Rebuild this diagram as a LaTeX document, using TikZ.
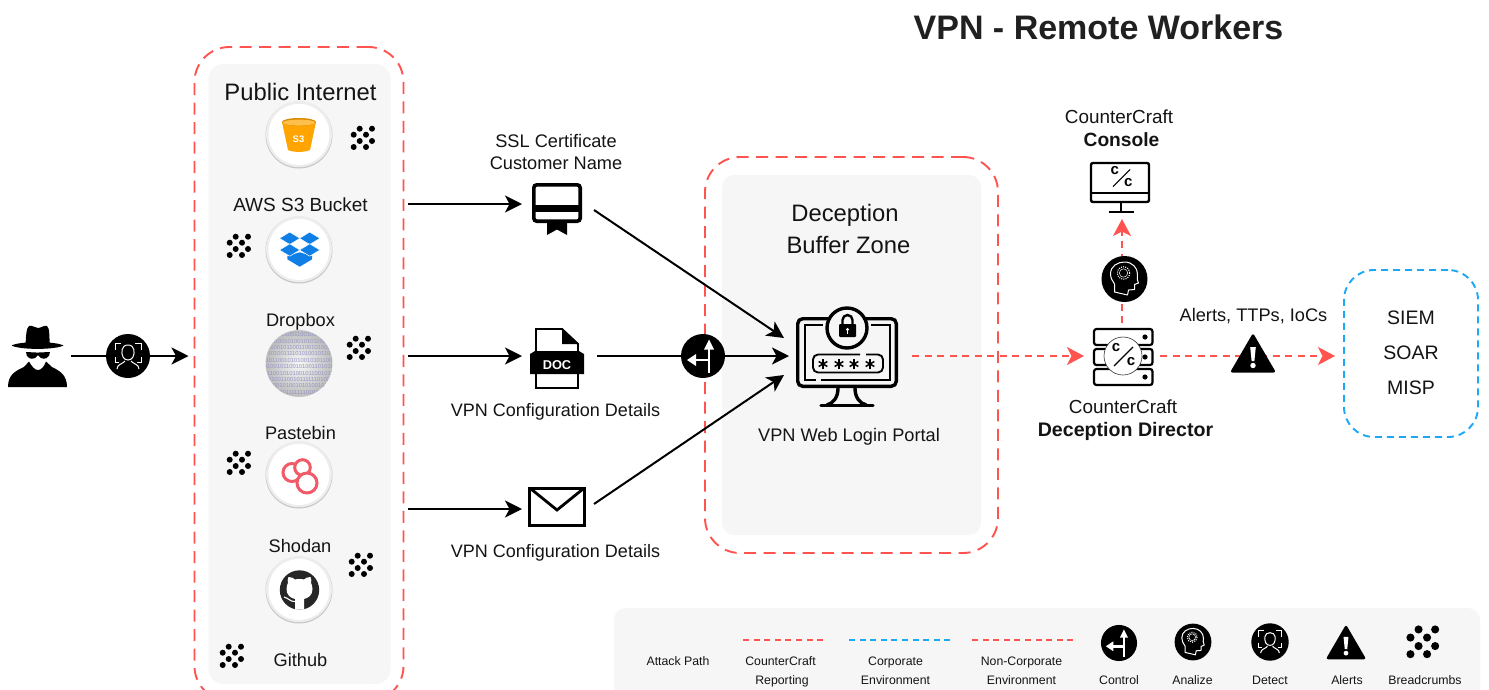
\documentclass[tikz,border=0pt]{standalone}
\usepackage{fontspec}
\setmainfont{Liberation Sans}
\usetikzlibrary{arrows.meta,calc}
\definecolor{redline}{HTML}{FF5350}
\definecolor{blueline}{HTML}{1CA8F4}
\definecolor{panel}{HTML}{F6F6F6}
\definecolor{ink}{HTML}{141414}
\definecolor{orangeb}{HTML}{FFA400}
\definecolor{blued}{HTML}{0F7FE6}
\definecolor{pink}{HTML}{EE3E4E}
\tikzset{
  panelbox/.style={fill=panel,rounded corners=#1,inner sep=0,outer sep=0},
  redbox/.style={draw=redline,line width=1.9pt,dash pattern=on 12pt off 7.5pt,rounded corners=35pt,inner sep=0,outer sep=0},
  bluebox/.style={draw=blueline,line width=1.9pt,dash pattern=on 7pt off 5pt,rounded corners=30pt,inner sep=0,outer sep=0},
  holder/.style={inner sep=0,outer sep=0},
  txt/.style={text=ink,inner sep=0,outer sep=0,text height=13pt,text depth=0pt,font=\fontsize{18.2}{20}\selectfont},
  boldtxt/.style={txt,font=\bfseries\fontsize{19.2}{21}\selectfont},
  bigtxt/.style={text=ink,inner sep=0,outer sep=0,text height=17pt,text depth=0pt,font=\fontsize{23.8}{26}\selectfont},
  smalltxt/.style={text=ink,inner sep=0,outer sep=0,text height=8.5pt,text depth=0pt,font=\fontsize{12.3}{14}\selectfont},
  attackflow/.style={draw=black,line width=2pt,-{Stealth[length=17pt,width=17pt,inset=4.5pt]}},
  reportflow/.style={draw=redline,line width=2pt,dash pattern=on 7pt off 5.5pt,-{Stealth[length=17pt,width=18pt,inset=4.5pt]}},
  crumbs/.pic={
    \foreach \a/\b in {-3.3/-9.3,9/-9.3,-9.3/-3.3,3/-3.3,-3.3/3,9/3,-9.3/9,3/9}
      \fill[black] (\a,\b) circle (3);
  },
  glossy/.pic={
    \fill[white!78!black] (0,0) circle (33.5);
    \fill[white!93!black] (0,-0.8) circle (33);
    \fill[white] (0,-0.6) circle (30.5);
  },
  controlicon/.pic={
    \fill[black] (0,0) circle (22);
    \draw[white,line width=2.8pt] (6,17) -- (6,-10);
    \fill[white] (6,-16.5) -- (11,-6.5) -- (1,-6.5) -- cycle;
    \draw[white,line width=2.8pt] (6,4) -- (-9,4);
    \fill[white] (-16,4) -- (-7,-2) -- (-7,10) -- cycle;
  },
  detecticon/.pic={
    \fill[black] (0,0) circle (22);
    \draw[white,line width=1pt] (-13,-6) -- (-13,-13) -- (-7,-13) (7,-13) -- (13,-13) -- (13,-6)
      (-13,1) -- (-13,6) -- (-9,6) (9,6) -- (13,6) -- (13,1);
    \draw[white,line width=1pt] (0,-11) .. controls (-7,-11) and (-7,-3) .. (-5,1) .. controls (-3,5) and (3,5) .. (5,1) .. controls (7,-3) and (7,-11) .. (0,-11);
    \draw[white,line width=1pt] (-11,13) .. controls (-11,8) and (-5,8) .. (-3,5) (3,5) .. controls (5,8) and (11,8) .. (11,13);
  },
  analyzeicon/.pic={
    \fill[black] (0,0) circle (23);
    \draw[white,line width=1pt,line join=round] (-10,13) -- (-10,5)
      .. controls (-12,2) and (-14,-1) .. (-14,-5)
      .. controls (-14,-13) and (-7,-17) .. (0,-17) .. controls (8,-17) and (13,-11) .. (13,-5)
      .. controls (13,-2) and (12,0) .. (14,4) -- (10,5.5) -- (10,10.5) -- (4,11) -- (3,16) -- cycle;
    \draw[white,line width=1.1pt,dash pattern=on 1pt off 1.2pt] (-1,-6) circle (6.2);
    \draw[white,line width=0.5pt] (-1,-6) circle (4.2);
  },
  alerticon/.pic={
    \fill[black,rounded corners=2.5pt] (0,-21) -- (23,18.5) -- (-23,18.5) -- cycle;
    \fill[white] (-2.8,-7) -- (2.8,-7) -- (1.4,7) -- (-1.4,7) -- cycle;
    \fill[white] (0,11.5) circle (2.7);
  },
  cslashc/.pic={
    \node (cu) [holder,font=\bfseries\fontsize{15}{15}\selectfont] at (-8,-9) {c};
    \node (cd) [holder,font=\bfseries\fontsize{15}{15}\selectfont] at (7,5) {c};
    \draw[black,line width=1.1pt] (-10,9) -- (9,-10);
  },
  starglyph/.pic={
    \foreach \r in {0,60,120} \draw[black,line width=1.5pt,rotate=\r] (0,-5) -- (0,5);
  }
}
\begin{document}
\begin{tikzpicture}[x=1pt,y=-1pt]
\useasboundingbox (0,0) rectangle (1489,689);
\clip (0,0) rectangle (1489,689);
\fill[white] (0,0) rectangle (1489,689);

% panels
\node (inetpanel) [panelbox=15pt,minimum width=182pt,minimum height=620pt] at (299.5,374) {};
\node (inet) [redbox,minimum width=209pt,minimum height=654pt] at (299,374) {};
\node (zonepanel) [panelbox=12pt,minimum width=259pt,minimum height=360pt] at (851.5,355) {};
\node (zone) [redbox,minimum width=293pt,minimum height=396pt] at (851.5,355) {};
\node (siem) [bluebox,minimum width=134pt,minimum height=167pt] at (1411,353.5) {};
\node (legend) [panelbox=12pt,minimum width=866pt,minimum height=110pt] at (1047,663) {};

% anchors of the icons
\node (spy) [holder,minimum width=66pt,minimum height=60pt] at (38,356) {};
\node (cert) [holder,minimum width=70pt,minimum height=52pt] at (557,204) {};
\node (doc) [holder,minimum width=70pt,minimum height=60pt] at (557,356) {};
\node (env) [holder,minimum width=70pt,minimum height=40pt] at (557,509) {};
\node (portal) [holder,minimum width=116pt,minimum height=90pt] at (847,356) {};
\node (director) [holder,minimum width=76pt,minimum height=66pt] at (1122,356) {};
\node (console) [holder,minimum width=60pt,minimum height=58pt] at (1122,190) {};
\coordinate (certout) at (594,210);
\coordinate (envout) at (594,504);
\coordinate (portalup) at (784,338);
\coordinate (portaldown) at (784,375);

% connectors
\draw[attackflow,shorten >=6pt] (spy.east) -- (inet.west |- spy.east);
\draw[attackflow,shorten <=4pt] (inet.east |- cert.west) -- (cert.west);
\draw[attackflow,shorten <=4pt] (inet.east |- doc.west) -- (doc.west);
\draw[attackflow,shorten <=4pt] (inet.east |- env.west) -- (env.west);
\draw[attackflow] (certout) -- (portalup);
\draw[attackflow,shorten <=5pt] (doc.east) -- (portal.west);
\draw[attackflow] (envout) -- (portaldown);
\draw[reportflow,shorten <=7pt] (portal.east) -- (director.west);
\draw[reportflow,shorten >=9pt] (director.east) -- (siem.west |- director.east);
\draw[reportflow] (director.north) -- (console.south);

% title
\node (title) [text=ink!95!white,inner sep=0,text height=24pt,text depth=0pt,font=\bfseries\fontsize{34}{37}\selectfont] at (1098.5,27) {VPN - Remote Workers};

% spy
\fill[black] (8,387) .. controls (8,375) and (15,371) .. (24,367) -- (29,361.5) .. controls (32,367) and (35,370) .. (38,370) .. controls (41,370) and (44,367) .. (46,361.5) -- (52,367) .. controls (60,371) and (67,375) .. (67,387) -- cycle;
\fill[black] (11.5,345.5) .. controls (20,341) and (55,341) .. (63.5,345.5) .. controls (55,350) and (20,350) .. (11.5,345.5) -- cycle;
\fill[black] (25.5,345) .. controls (26,338) and (26,328) .. (29,326) .. controls (33,325) and (35,328) .. (38,328) .. controls (41,328) and (44,325) .. (47,326) .. controls (50,328) and (49,338) .. (50,345) -- cycle;
\fill[black] (26,352) -- (36,352.5) -- (39,352.5) -- (50,352) .. controls (50,358) and (44,360) .. (41,358) -- (38,355) -- (35,358) .. controls (31,360) and (26,358) .. (26,352) -- cycle;
\pic at (128,356) {detecticon};

% public internet column
\node (inettitle) [bigtxt] at (300.5,92) {Public Internet};
\pic at (299,135) {glossy};
\pic at (299,250) {glossy};
\pic at (299,475) {glossy};
\pic at (299,590) {glossy};
% S3 bucket
\begin{scope}[shift={(299,135)}]
\fill[orangeb] (-17,-13) -- (17,-13) -- (11,15) .. controls (6,17.5) and (-6,17.5) .. (-11,15) -- cycle;
\fill[orangeb!85!black] (0,-13) ellipse (17 and 4);
\fill[orangeb!70!white] (0,-12.4) ellipse (16 and 3);
\node (s3mark) [holder,text=white,font=\bfseries\fontsize{9.5}{10}\selectfont] at (-0.5,4) {S3};
\end{scope}
% dropbox
\begin{scope}[shift={(299.7,250)}]
\fill[blued] (-12.3,6) -- (0,2.3) -- (12.3,6) -- (12.3,9.3) -- (0,16.7) -- (-12.3,9.3) -- cycle;
\foreach \a/\b in {-10/-11.7,10/-11.7,-10/0,10/0}
  \filldraw[fill=blued,draw=white,line width=0.5pt] (\a-10.2,\b) -- (\a,\b-6.2) -- (\a+10.2,\b) -- (\a,\b+6.2) -- cycle;
\end{scope}
% binary disc
\begin{scope}
\fill[white!80!black] (299,363.5) circle (33.5);
\clip (299,363.5) circle (33);
\shade[inner color=white!97!black,outer color=white!74!black] (299,363.5) circle (33);
\node (binarytext) [holder,align=center,text=black!40!blue!35!white!90!black,font=\fontsize{5.8}{6.4}\selectfont] at (299,363.5) {%
0101010011001010100\\01011001010010101100101\\100100101100110010100101\\001010011110101001011010\\01011001010100101011001\\101001011001010011010101\\001100101010010110010101\\010100110010111111010000\\001100101001010100101001\\0010011111110101010};
\end{scope}
% pastebin
\begin{scope}[shift={(299,475)}]
\foreach \a/\b/\r in {-7/-2.5/9,3.5/-7.5/7.8,8/8/10}
  \filldraw[fill=white,draw=pink!85!white,line width=3pt] (\a,\b) circle (\r);
\end{scope}
% github
\begin{scope}[shift={(299.5,590)}]
\fill[black!85!white] (0,0) circle (19.7);
\fill[white] (-4.5,19.6) -- (-4.5,9) .. controls (-9,8) and (-13,5) .. (-13,-1) .. controls (-13,-4) and (-12,-6) .. (-11.5,-7) .. controls (-12,-9) and (-12,-11) .. (-11,-13) .. controls (-8,-13) and (-6,-12) .. (-4.5,-10.5) .. controls (-2,-11.2) and (2,-11.2) .. (4.5,-10.5) .. controls (6,-12) and (8,-13) .. (11,-13) .. controls (12,-11) and (12,-9) .. (11.5,-7) .. controls (12,-6) and (13,-4) .. (13,-1) .. controls (13,5) and (9,8) .. (4.5,9) -- (4.5,19.6) -- cycle;
\draw[white,line width=1.1pt] (-4.5,11.5) .. controls (-9,12) and (-11,8) .. (-15.5,7);
\end{scope}
% labels of the column
\node (lbls3) [txt,font=\fontsize{19}{21}\selectfont] at (300.5,205) {AWS S3 Bucket};
\node (lbldropbox) [txt] at (300.5,320) {Dropbox};
\node (lblpastebin) [txt] at (300.5,433) {Pastebin};
\node (lblshodan) [txt] at (300,546) {Shodan};
\node (lblgithub) [txt] at (300.5,660) {Github};
% breadcrumbs
\pic at (363,138) {crumbs};
\pic at (239,246) {crumbs};
\pic at (359,348) {crumbs};
\pic at (239,463) {crumbs};
\pic at (361,565) {crumbs};
\pic at (232,656) {crumbs};

% certificate
\draw[black,line width=3.6pt,rounded corners=3pt] (533.8,184.8) rectangle (580.2,221.2);
\fill[black] (533,205) rectangle (581,212);
\fill[black] (547,222) -- (567,222) -- (567,235) -- (557,229.5) -- (547,235) -- cycle;
\node (lblssl1) [txt] at (556,141) {SSL Certificate};
\node (lblssl2) [txt] at (556,163) {Customer Name};
% document
\draw[black,line width=1.9pt] (536,329) -- (562,329) -- (578,344) -- (578,388) -- (536,388) -- cycle;
\fill[black] (562,328) -- (579,344) -- (562,344) -- cycle;
\fill[black] (530,354) -- (535,351) -- (579,351) -- (584,354) -- (584,374) -- (530,374) -- cycle;
\node (doctext) [holder,text=white,font=\bfseries\fontsize{12.8}{13}\selectfont] at (557,365.5) {DOC};
\node (lblcfg1) [txt,font=\fontsize{18}{20}\selectfont] at (555.5,410) {VPN Configuration Details};
% envelope
\draw[black,line width=3.4pt] (529.7,488.7) rectangle (584.3,525.3);
\draw[black,line width=2.8pt] (531,489) -- (557,510) -- (583,489);
\node (lblcfg2) [txt,font=\fontsize{18}{20}\selectfont] at (555.5,551) {VPN Configuration Details};

\pic at (703,356) {controlicon};

% deception zone
\node (lblzone1) [bigtxt] at (845,213) {Deception};
\node (lblzone2) [bigtxt] at (848.5,245) {Buffer Zone};
\draw[black,line width=3.4pt,rounded corners=5pt] (797.7,318.7) rectangle (896.3,386.3);
\draw[black,line width=1.9pt] (823,325) -- (805,325) -- (805,380) -- (816,380) (821,380) -- (890,380) -- (890,325) -- (871,325);
\draw[black,line width=3.4pt,line cap=round] (838,388) .. controls (838,398) and (833,403) .. (827,405);
\draw[black,line width=3.4pt,line cap=round] (855,388) .. controls (855,398) and (860,403) .. (866,405);
\draw[black,line width=3.4pt,line cap=round] (821,405.5) -- (873,405.5);
\filldraw[fill=panel,draw=black,line width=3.4pt] (847,328) circle (20);
\fill[black,rounded corners=1pt] (839,324) rectangle (856,337);
\draw[black,line width=2.4pt] (842.5,325) -- (842.5,320) arc[start angle=180,end angle=360,radius=5] -- (852.5,325);
\fill[white] (847.5,329.5) circle (1.6);
\draw[white,line width=1pt] (847.5,329.5) -- (847.5,334);
\draw[black,line width=1.9pt,rounded corners=5pt] (860,354.5) -- (813,354.5) -- (813,372.5) -- (883,372.5) -- (883,354.5) -- (866,354.5);
\pic at (823,364) {starglyph};
\pic at (839,364) {starglyph};
\pic at (854,364) {starglyph};
\pic at (870,364) {starglyph};
\node (lblportal) [txt] at (849,435) {VPN Web Login Portal};

% console
\draw[black,line width=2.4pt,rounded corners=2pt] (1091,163) rectangle (1149,202);
\draw[black,line width=2.2pt] (1091,193) -- (1149,193);
\draw[black,line width=2.2pt] (1121,203) -- (1121,212);
\draw[black,line width=2.2pt] (1108.5,212) -- (1134,212);
\pic[scale=0.9] at (1122,178.5) {cslashc};
\node (lblcon1) [txt,font=\fontsize{18.9}{21}\selectfont] at (1119,117) {CounterCraft};
\node (lblcon2) [boldtxt] at (1121.5,140) {Console};
\pic at (1124.5,279) {analyzeicon};

% director
\foreach \y in {329,349,369} {
  \draw[black,line width=2.2pt,rounded corners=2.5pt] (1094,\y) rectangle (1152.5,\y+16);
  \fill[black] (1145,\y+8) circle (2.6);
}
\filldraw[fill=white,draw=black!80!white,line width=0.6pt] (1123,356) circle (19);
\pic at (1124,357) {cslashc};
\node (lbldir1) [txt,font=\fontsize{18.9}{21}\selectfont] at (1123,407) {CounterCraft};
\node (lbldir2) [boldtxt,font=\bfseries\fontsize{19.6}{22}\selectfont] at (1125.5,430) {Deception Director};

% alerts
\pic at (1253,354) {alerticon};
\node (lblalerts) [txt] at (1253.5,315) {Alerts, TTPs, IoCs};

% siem
\node (lblsiem) [txt,font=\fontsize{19.5}{22}\selectfont] at (1411,318) {SIEM};
\node (lblsoar) [txt,font=\fontsize{19.5}{22}\selectfont] at (1411,353) {SOAR};
\node (lblmisp) [txt,font=\fontsize{19.5}{22}\selectfont] at (1411,388) {MISP};

% legend
\coordinate (la) at (743,640);
\coordinate (lb) at (824,640);
\coordinate (lc) at (849,640);
\coordinate (ld) at (951,640);
\coordinate (le) at (972,640);
\coordinate (lf) at (1075,640);
\draw[redline,line width=1.7pt,dash pattern=on 6pt off 4.6pt] (la) -- (lb);
\draw[blueline,line width=1.7pt,dash pattern=on 6pt off 4.6pt] (lc) -- (ld);
\draw[redline,line width=1.7pt,dash pattern=on 6pt off 4.6pt] (le) -- (lf);
\node (lgattack) [smalltxt] at (678,661) {Attack Path};
\node (lgcc1) [smalltxt] at (780.5,661) {CounterCraft};
\node (lgcc2) [smalltxt] at (782,680) {Reporting};
\node (lgco1) [smalltxt] at (895.5,661) {Corporate};
\node (lgco2) [smalltxt] at (895.5,680) {Environment};
\node (lgnc1) [smalltxt] at (1021.5,661) {Non-Corporate};
\node (lgnc2) [smalltxt] at (1021.5,680) {Environment};
\pic[scale=0.82] at (1119,643) {controlicon};
\pic[scale=0.8] at (1193,642) {analyzeicon};
\pic[scale=0.85] at (1270,642) {detecticon};
\pic[scale=0.88] at (1346,643) {alerticon};
\pic[scale=1.35] at (1423,642) {crumbs};
\node (lgcontrol) [smalltxt] at (1119,680) {Control};
\node (lganalize) [smalltxt] at (1192.5,680) {Analize};
\node (lgdetect) [smalltxt] at (1270,680) {Detect};
\node (lgalerts) [smalltxt] at (1347,680) {Alerts};
\node (lgcrumbs) [smalltxt] at (1425,680) {Breadcrumbs};
\end{tikzpicture}
\end{document}
